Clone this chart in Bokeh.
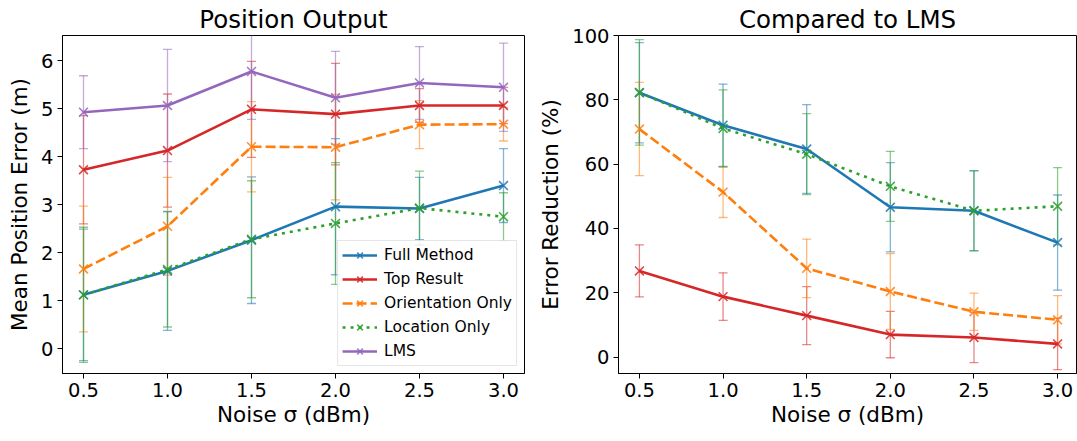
from bokeh.plotting import figure
from bokeh.layouts import row
from bokeh.models import (ColumnDataSource, Whisker, TeeHead, Legend, LegendItem,
                          Range1d, FixedTicker)
from bokeh.embed import file_html
from bokeh.resources import INLINE

# ---------------- data ----------------
noise = [0.5, 1.0, 1.5, 2.0, 2.5, 3.0]
noise_labels = ["0.5", "1.0", "1.5", "2.0", "2.5", "3.0"]

series_names = ["Full Method", "Top Result", "Orientation Only", "Location Only", "LMS"]

# mean position error (m) and its standard deviation
pos_full = [1.12, 1.62, 2.26, 2.96, 2.92, 3.40]
pos_full_sd = [1.37, 1.24, 1.32, 1.42, 0.65, 0.77]
pos_top = [3.73, 4.13, 4.99, 4.89, 5.07, 5.07]
pos_top_sd = [1.13, 1.18, 1.00, 1.06, 0.35, 0.38]
pos_orient = [1.66, 2.55, 4.21, 4.20, 4.67, 4.68]
pos_orient_sd = [1.31, 1.02, 0.94, 1.10, 0.50, 0.35]
pos_loc = [1.12, 1.65, 2.28, 2.61, 2.93, 2.75]
pos_loc_sd = [1.41, 1.20, 1.22, 1.27, 0.77, 0.50]
pos_lms = [4.93, 5.07, 5.78, 5.23, 5.54, 5.45]
pos_lms_sd = [0.76, 1.17, 1.00, 0.97, 0.76, 0.92]

# error reduction relative to LMS (%) and its standard deviation
red_full = [82.2, 72.1, 64.7, 46.6, 45.5, 35.6]
red_full_sd = [15.6, 12.8, 13.8, 13.9, 12.5, 14.8]
red_top = [26.8, 18.8, 12.9, 7.0, 6.1, 4.1]
red_top_sd = [8.1, 7.4, 9.0, 7.2, 7.8, 8.0]
red_orient = [70.9, 51.3, 27.6, 20.4, 14.1, 11.6]
red_orient_sd = [14.5, 7.9, 9.1, 11.8, 5.8, 7.5]
red_loc = [82.3, 71.1, 63.1, 53.1, 45.5, 46.9]
red_loc_sd = [16.4, 12.0, 12.6, 10.9, 12.4, 12.0]

# ---------------- styles ----------------
COLORS = {"Full Method": "#1f77b4", "Top Result": "#d62728",
          "Orientation Only": "#ff7f0e", "Location Only": "#2ca02c", "LMS": "#9467bd"}
DASH = {"Full Method": "solid", "Top Result": "solid",
        "Orientation Only": "10 4", "Location Only": "3 5", "LMS": "solid"}
FONT = "DejaVu Sans"


def style_axes(p, xlabel, ylabel, yticks):
    p.outline_line_color = "black"
    p.outline_line_width = 1
    p.xgrid.visible = False
    p.ygrid.visible = False
    for ax in (p.xaxis[0], p.yaxis[0]):
        ax.axis_line_color = "black"
        ax.major_tick_line_color = "black"
        ax.major_tick_out = 5
        ax.major_tick_in = 0
        ax.minor_tick_line_color = None
        ax.major_label_text_font = FONT
        ax.major_label_text_font_size = "19.5px"
        ax.major_label_text_color = "black"
        ax.axis_label_text_font = FONT
        ax.axis_label_text_font_size = "21.5px"
        ax.axis_label_text_font_style = "normal"
        ax.axis_label_text_color = "black"
        ax.major_label_standoff = 4
    p.xaxis[0].ticker = FixedTicker(ticks=noise)
    p.xaxis[0].major_label_overrides = dict(zip(noise, noise_labels))
    p.xaxis[0].axis_label = xlabel
    p.xaxis[0].axis_label_standoff = 2
    p.yaxis[0].ticker = FixedTicker(ticks=yticks)
    p.yaxis[0].axis_label = ylabel
    p.yaxis[0].axis_label_standoff = 6
    p.title.align = "center"
    p.title.text_font = FONT
    p.title.text_font_size = "24.5px"
    p.title.text_font_style = "normal"
    p.title.text_color = "black"
    p.title.standoff = 4


def add_series(p, name, means, sds):
    color = COLORS[name]
    src = ColumnDataSource(dict(
        x=noise, y=means,
        upper=[m + s for m, s in zip(means, sds)],
        lower=[m - s for m, s in zip(means, sds)]))
    p.add_layout(Whisker(source=src, base="x", upper="upper", lower="lower",
                         dimension="height", line_color=color, line_alpha=0.55,
                         line_width=1.3, level="underlay",
                         upper_head=TeeHead(size=9, line_color=color, line_alpha=0.55, line_width=1.3),
                         lower_head=TeeHead(size=9, line_color=color, line_alpha=0.55, line_width=1.3)))
    ln = p.line("x", "y", source=src, line_color=color, line_width=2.6,
                line_dash=DASH[name])
    mk = p.scatter("x", "y", source=src, marker="x", size=12.5, line_color=color,
                   line_width=1.6, line_alpha=0.85)
    return [ln, mk]


# ---------------- left panel ----------------
left = figure(width=535, height=441, output_backend="svg", toolbar_location=None,
              x_range=Range1d(0.375, 3.125), y_range=Range1d(-0.52, 6.53),
              title="Position Output",
              min_border_left=62, min_border_right=11, min_border_top=34, min_border_bottom=68)
style_axes(left, "Noise σ (dBm)", "Mean Position Error (m)", [0, 1, 2, 3, 4, 5, 6])

pos_data = [(pos_full, pos_full_sd), (pos_top, pos_top_sd), (pos_orient, pos_orient_sd),
            (pos_loc, pos_loc_sd), (pos_lms, pos_lms_sd)]
items = []
for name, (m, s) in zip(series_names, pos_data):
    items.append(LegendItem(label=name, renderers=add_series(left, name, m, s)))

legend = Legend(items=items, location="bottom_right", margin=7, padding=4,
                spacing=4, label_height=20, glyph_height=20, glyph_width=35,
                label_standoff=7, label_text_font=FONT, label_text_font_size="15.5px",
                label_text_color="black", border_line_color="#cccccc",
                border_line_width=1, background_fill_color="white",
                background_fill_alpha=0.8)
left.add_layout(legend)

# ---------------- right panel ----------------
right = figure(width=542, height=441, output_backend="svg", toolbar_location=None,
               x_range=Range1d(0.375, 3.113), y_range=Range1d(-5.1, 100),
               title="Compared to LMS",
               min_border_left=82, min_border_right=1, min_border_top=34, min_border_bottom=68)
style_axes(right, "Noise σ (dBm)", "Error Reduction (%)", [0, 20, 40, 60, 80, 100])

red_data = [(red_full, red_full_sd), (red_top, red_top_sd), (red_orient, red_orient_sd),
            (red_loc, red_loc_sd)]
for name, (m, s) in zip(series_names[:4], red_data):
    add_series(right, name, m, s)

layout = row(left, right)
open("out.html", "w").write(file_html(layout, INLINE))
